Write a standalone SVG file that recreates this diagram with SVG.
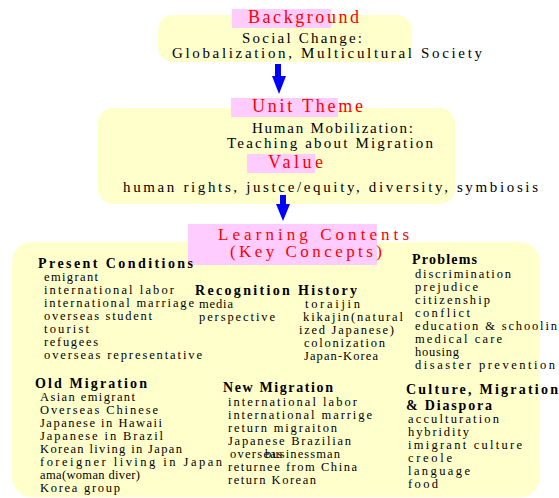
<svg xmlns="http://www.w3.org/2000/svg" width="559" height="498" viewBox="0 0 559 498">
<style>
text{font-family:"Liberation Serif","DejaVu Serif",serif;fill:#000}
.box{fill:#FFFFCC}
.hl{fill:#FFCCFF}
.red{font-size:18px;fill:#FF0000}
.red2{font-size:17px;fill:#FF0000}
.body{font-size:15px}
.head{font-size:14px;font-weight:bold}
.item{font-size:12.5px}
.arrow{fill:#0000FF}
</style>
<rect width="559" height="498" fill="#FFFFFF"/>
<g id="background">
<rect class="box" x="158" y="15" width="254" height="47" rx="15"/>
<rect class="hl" x="232" y="9" width="99" height="19"/>
<text class="red" x="248" y="23" textLength="111">Background</text>
<text class="body" x="242" y="43" textLength="120">Social Change:</text>
<text class="body" x="172" y="58" textLength="310">Globalization, Multicultural Society</text>
</g>
<g id="unit-theme">
<rect class="box" x="98" y="108" width="357" height="96" rx="15"/>
<rect class="hl" x="231" y="98" width="107" height="19"/>
<text class="red" x="252" y="112" textLength="111">Unit Theme</text>
<text class="body" x="252" y="133" textLength="161">Human Mobilization:</text>
<text class="body" x="227" y="148" textLength="206">Teaching about Migration</text>
<rect class="hl" x="247" y="154" width="68" height="19"/>
<text class="red" x="268" y="168" textLength="55">Value</text>
<text class="body" x="123" y="192" textLength="415">human rights, justce/equity, diversity, symbiosis</text>
</g>
<g id="connectors">
<polygon class="arrow" points="275,64 281,64 281,76 286,76 279,94 272,76 275,76"/>
<polygon class="arrow" points="280,195 286,195 286,204 290,204 283,221 276,204 280,204"/>
</g>
<g id="learning-contents">
<rect class="box" x="12" y="242" width="528" height="255" rx="20"/>
<rect class="hl" x="188" y="224" width="189" height="41"/>
<text class="red2" x="218" y="240" textLength="191">Learning Contents</text>
<text class="red2" x="230" y="257" textLength="152">(Key Concepts)</text>
</g>
<g id="present-conditions">
<text class="head" x="38" y="268" textLength="155">Present Conditions</text>
<text class="item" x="44" y="281" textLength="54">emigrant</text>
<text class="item" x="44" y="294" textLength="130">international labor</text>
<text class="item" x="44" y="307" textLength="150">international marriage</text>
<text class="item" x="44" y="320" textLength="108">overseas student</text>
<text class="item" x="44" y="333" textLength="45">tourist</text>
<text class="item" x="44" y="346" textLength="54">refugees</text>
<text class="item" x="44" y="359" textLength="158">overseas representative</text>
</g>
<g id="recognition-history">
<text class="head" x="195" y="295" textLength="162">Recognition History</text>
<text class="item" x="199" y="308" textLength="34">media</text>
<text class="item" x="199" y="321" textLength="76">perspective</text>
<text class="item" x="305" y="308" textLength="55">toraijin</text>
<text class="item" x="303" y="321" textLength="100">kikajin(natural</text>
<text class="item" x="299" y="334" textLength="95">ized Japanese)</text>
<text class="item" x="304" y="347" textLength="81">colonization</text>
<text class="item" x="304" y="360" textLength="74">Japan-Korea</text>
</g>
<g id="problems">
<text class="head" x="412" y="264" textLength="65">Problems</text>
<text class="item" x="415" y="278" textLength="96">discrimination</text>
<text class="item" x="415" y="291" textLength="63">prejudice</text>
<text class="item" x="415" y="304" textLength="75">citizenship</text>
<text class="item" x="415" y="317" textLength="55">conflict</text>
<text class="item" x="415" y="330" textLength="142">education &amp; schoolin</text>
<text class="item" x="415" y="343" textLength="87">medical care</text>
<text class="item" x="415" y="356" textLength="44">housing</text>
<text class="item" x="415" y="369" textLength="140">disaster prevention</text>
</g>
<g id="old-migration">
<text class="head" x="35" y="388" textLength="112">Old Migration</text>
<text class="item" x="40" y="401" textLength="95">Asian emigrant</text>
<text class="item" x="40" y="414" textLength="118">Overseas Chinese</text>
<text class="item" x="40" y="427" textLength="122">Japanese in Hawaii</text>
<text class="item" x="40" y="440" textLength="123">Japanese in Brazil</text>
<text class="item" x="40" y="453" textLength="142">Korean living in Japan</text>
<text class="item" x="40" y="466" textLength="182">foreigner living in  Japan</text>
<text class="item" x="40" y="479" textLength="100">ama(woman diver)</text>
<text class="item" x="40" y="492" textLength="80">Korea group</text>
</g>
<g id="new-migration">
<text class="head" x="223" y="392" textLength="110">New Migration</text>
<text class="item" x="228" y="406" textLength="129">international labor</text>
<text class="item" x="228" y="419" textLength="144">international marrige</text>
<text class="item" x="228" y="432" textLength="109">return migraiton</text>
<text class="item" x="228" y="445" textLength="123">Japanese Brazilian</text>
<text class="item" x="230" y="458" textLength="52">overseas</text>
<text class="item" x="265" y="458" textLength="75">businessman</text>
<text class="item" x="228" y="471" textLength="129">returnee from China</text>
<text class="item" x="228" y="484" textLength="88">return Korean</text>
</g>
<g id="culture-migration-diaspora">
<text class="head" x="406" y="394" textLength="152">Culture, Migration</text>
<text class="head" x="406" y="410" textLength="86">&amp; Diaspora</text>
<text class="item" x="408" y="423" textLength="91">acculturation</text>
<text class="item" x="408" y="436" textLength="61">hybridity</text>
<text class="item" x="408" y="449" textLength="114">imigrant culture</text>
<text class="item" x="408" y="462" textLength="44">creole</text>
<text class="item" x="408" y="475" textLength="62">language</text>
<text class="item" x="408" y="488" textLength="30">food</text>
</g>
</svg>
